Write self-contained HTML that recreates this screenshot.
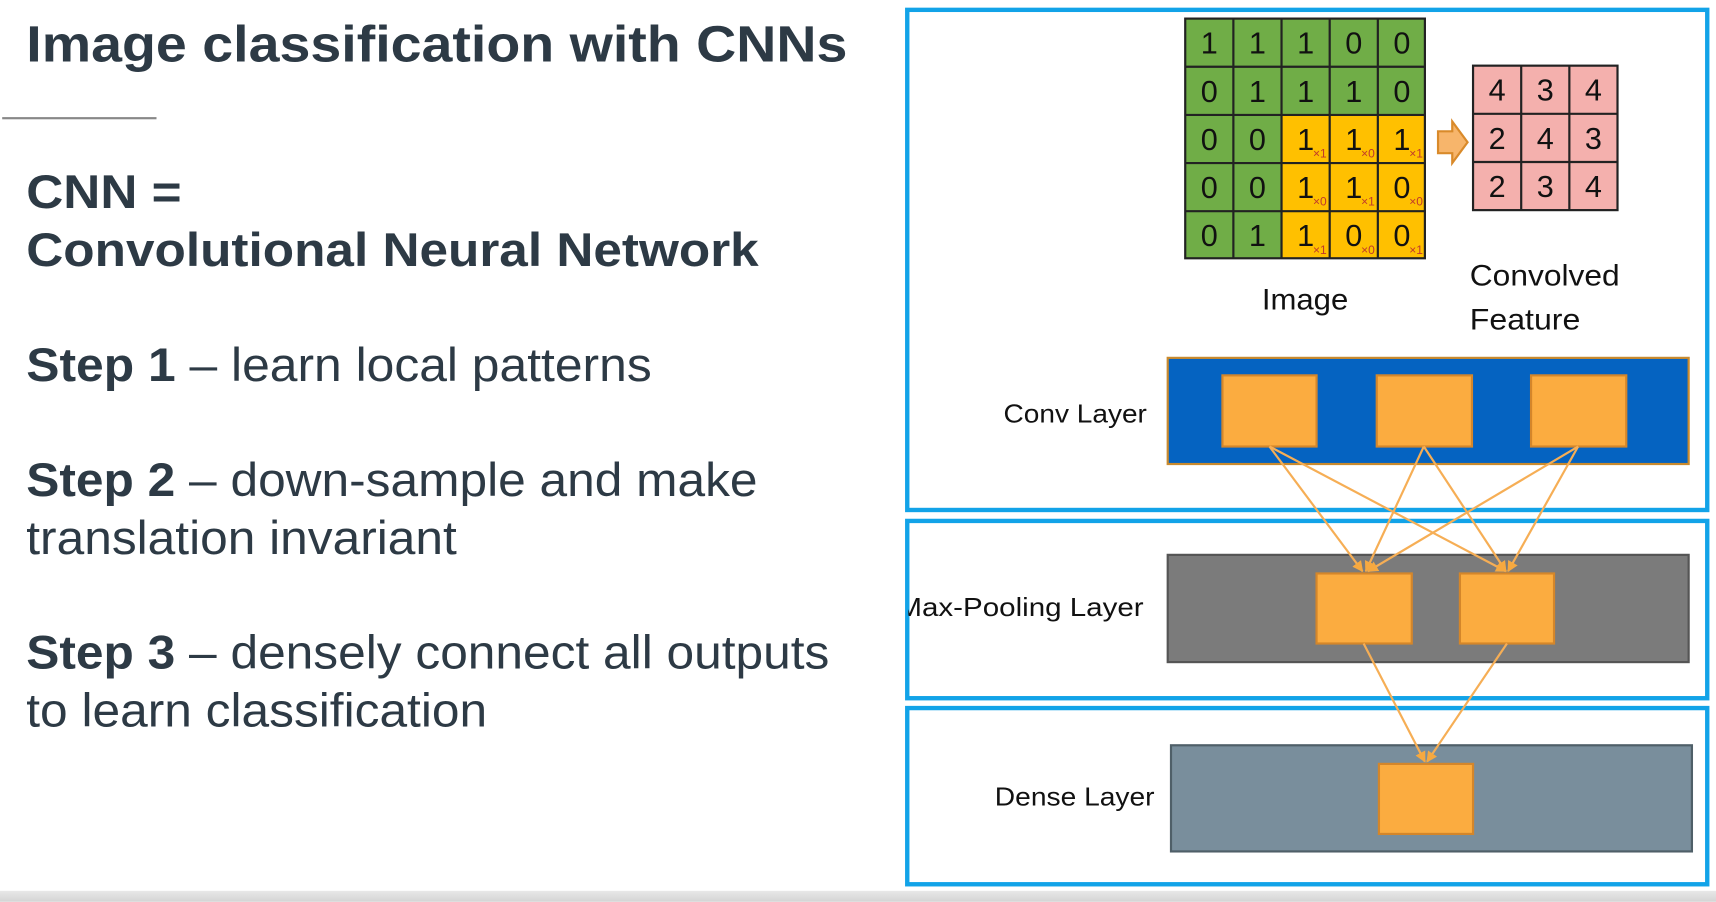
<!DOCTYPE html>
<html><head><meta charset="utf-8"><style>
html,body{margin:0;padding:0;background:#fff;overflow:hidden}
#wrap{width:1568px;height:824px;transform:scale(1.09439);transform-origin:0 0;position:relative;font-family:"Liberation Sans",sans-serif;color:#2d3a45}
.t{position:absolute;left:24px;white-space:nowrap;transform-origin:0 0}
.b{font-weight:bold}
</style></head><body><div id="wrap">
<div class="t b" style="top:12px;font-size:47px;transform:scaleX(1.08)">Image classification with CNNs</div>
<div style="position:absolute;left:2px;top:107px;width:141px;height:2px;background:#888"></div>
<div class="t b" style="top:152px;font-size:43px;transform:scaleX(1.09)">CNN =</div>
<div class="t b" style="top:205px;font-size:43px;transform:scaleX(1.09)">Convolutional Neural Network</div>
<div class="t" style="top:310px;font-size:43px;transform:scaleX(1.058)"><b>Step 1</b> – learn local patterns</div>
<div class="t" style="top:415px;font-size:43px;transform:scaleX(1.055)"><b>Step 2</b> – down-sample and make</div>
<div class="t" style="top:468px;font-size:43px;transform:scaleX(1.055)">translation invariant</div>
<div class="t" style="top:573px;font-size:43px;transform:scaleX(1.055)"><b>Step 3</b> – densely connect all outputs</div>
<div class="t" style="top:626px;font-size:43px;transform:scaleX(1.055)">to learn classification</div>
<div style="position:absolute;left:0;top:814px;width:1568px;height:10px;background:linear-gradient(#e8e8e8,#d4d4d4)"></div>

<svg width="1568" height="824" style="position:absolute;left:0;top:0" font-family="Liberation Sans, sans-serif">
<defs><clipPath id="c"><rect x="830" y="0" width="740" height="824"/></clipPath>
<marker id="a" markerWidth="10" markerHeight="10" refX="9" refY="5" orient="auto" markerUnits="userSpaceOnUse"><path d="M0,0 L10,5 L0,10 Z" fill="#f6a940"/></marker></defs>
<g fill="none" stroke="#12a3e8" stroke-width="4">
<rect x="829" y="9" width="731" height="457"/>
<rect x="829" y="476" width="731" height="162"/>
<rect x="829" y="647" width="731" height="161"/>
</g>
<g font-size="28" text-anchor="middle" fill="#111">
<rect x="1083" y="17" width="219" height="219" fill="#70ad47"/>
<rect x="1171" y="105" width="131" height="131" fill="#ffc000"/>
<g stroke="#222" stroke-width="2" fill="none">
<rect x="1083" y="17" width="219" height="219"/>
<path d="M1127,17V236M1171,17V236M1215,17V236M1259,17V236M1083,61H1302M1083,105H1302M1083,149H1302M1083,193H1302"/>
</g>
<text x="1105" y="49">1</text><text x="1149" y="49">1</text><text x="1193" y="49">1</text><text x="1237" y="49">0</text><text x="1281" y="49">0</text>
<text x="1105" y="93">0</text><text x="1149" y="93">1</text><text x="1193" y="93">1</text><text x="1237" y="93">1</text><text x="1281" y="93">0</text>
<text x="1105" y="137">0</text><text x="1149" y="137">0</text><text x="1193" y="137">1</text><text x="1237" y="137">1</text><text x="1281" y="137">1</text>
<text x="1105" y="181">0</text><text x="1149" y="181">0</text><text x="1193" y="181">1</text><text x="1237" y="181">1</text><text x="1281" y="181">0</text>
<text x="1105" y="225">0</text><text x="1149" y="225">1</text><text x="1193" y="225">1</text><text x="1237" y="225">0</text><text x="1281" y="225">0</text>
<g font-size="11" fill="#c0392b">
<text x="1206" y="144">×1</text><text x="1250" y="144">×0</text><text x="1294" y="144">×1</text>
<text x="1206" y="188">×0</text><text x="1250" y="188">×1</text><text x="1294" y="188">×0</text>
<text x="1206" y="232">×1</text><text x="1250" y="232">×0</text><text x="1294" y="232">×1</text>
</g>
<rect x="1346" y="60" width="132" height="132" fill="#f4b0ad"/>
<g stroke="#222" stroke-width="2" fill="none">
<rect x="1346" y="60" width="132" height="132"/>
<path d="M1390,60V192M1434,60V192M1346,104H1478M1346,148H1478"/>
</g>
<text x="1368" y="92">4</text><text x="1412" y="92">3</text><text x="1456" y="92">4</text>
<text x="1368" y="136">2</text><text x="1412" y="136">4</text><text x="1456" y="136">3</text>
<text x="1368" y="180">2</text><text x="1412" y="180">3</text><text x="1456" y="180">4</text>
</g>
<path d="M1314,120H1327V111L1341,130L1327,149V140H1314Z" fill="#f7b56b" stroke="#d98a2a" stroke-width="2"/>
<g font-size="27" fill="#111">
<text x="1153" y="283" textLength="79" lengthAdjust="spacingAndGlyphs">Image</text>
<text x="1343" y="261" textLength="137" lengthAdjust="spacingAndGlyphs">Convolved</text>
<text x="1343" y="301" textLength="101" lengthAdjust="spacingAndGlyphs">Feature</text>
</g>
<rect x="1067" y="327" width="476" height="97" fill="#0563c1" stroke="#c98a2e" stroke-width="2"/>
<rect x="1067" y="507" width="476" height="98" fill="#7b7b7b" stroke="#555" stroke-width="2"/>
<rect x="1070" y="681" width="476" height="97" fill="#798e9c" stroke="#4f5f68" stroke-width="2"/>
<g fill="#fbac40" stroke="#d4862a" stroke-width="2">
<rect x="1117" y="343" width="86" height="65"/><rect x="1258" y="343" width="87" height="65"/><rect x="1399" y="343" width="87" height="65"/>
<rect x="1203" y="524" width="87" height="64"/><rect x="1334" y="524" width="86" height="64"/>
<rect x="1260" y="698" width="86" height="64"/>
</g>
<g stroke="#f6ae55" stroke-width="2" marker-end="url(#a)">
<line x1="1160" y1="408" x2="1245" y2="522"/><line x1="1160" y1="408" x2="1376" y2="522"/>
<line x1="1301" y1="408" x2="1248" y2="522"/><line x1="1301" y1="408" x2="1376" y2="522"/>
<line x1="1442" y1="408" x2="1250" y2="522"/><line x1="1442" y1="408" x2="1378" y2="522"/>
<line x1="1246" y1="588" x2="1302" y2="696"/><line x1="1377" y1="588" x2="1304" y2="696"/>
</g>
<g font-size="24" fill="#111" clip-path="url(#c)">
<text x="917" y="386" textLength="131" lengthAdjust="spacingAndGlyphs">Conv Layer</text>
<text x="820" y="563" textLength="225" lengthAdjust="spacingAndGlyphs">Max-Pooling Layer</text>
<text x="909" y="736" textLength="146" lengthAdjust="spacingAndGlyphs">Dense Layer</text>
</g>
</svg>
</div></body></html>
